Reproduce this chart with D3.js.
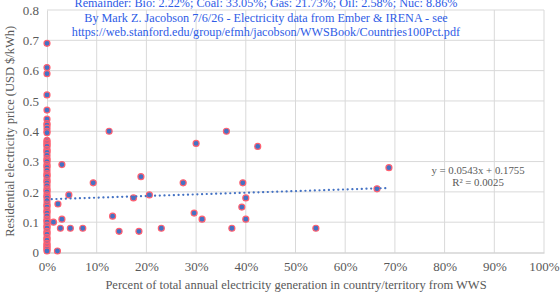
<!DOCTYPE html>
<html>
<head>
<meta charset="utf-8">
<script src="https://cdn.jsdelivr.net/npm/d3@7"></script>
<style>
  body { margin: 0; background: #fff; }
  text { font-family: "Liberation Serif", "Times New Roman", serif; }
</style>
</head>
<body>
<div id="chart-area"></div>
<script>
// points sitting on the 0% line (price in USD/kWh)
var zeroPrices = [0.69, 0.61, 0.59, 0.52, 0.47, 0.44, 0.425, 0.42, 0.41, 0.40, 0.395,
    0.37, 0.365, 0.36, 0.355, 0.35, 0.34, 0.335, 0.33, 0.32, 0.31, 0.305, 0.30, 0.29,
    0.285, 0.28, 0.27, 0.26, 0.255, 0.25, 0.24, 0.235, 0.23, 0.22, 0.21, 0.205, 0.20,
    0.19, 0.185, 0.18, 0.17, 0.16, 0.155, 0.15, 0.14, 0.135, 0.13, 0.12, 0.11, 0.105,
    0.10, 0.09, 0.085, 0.08, 0.07, 0.065, 0.06, 0.05, 0.045, 0.04, 0.03, 0.025, 0.02,
    0.015, 0.01, 0.005];

// other countries: percent WWS and price
var wwsPct = [3.0, 2.2, 4.4, 1.3, 3.0, 2.7, 4.7, 7.2, 2.1, 9.3, 12.5, 13.2, 14.5, 17.4,
    18.5, 18.9, 20.6, 23.0, 27.4, 29.6, 30.0, 31.2, 36.1, 37.2, 39.2, 39.4, 40.0, 40.0,
    42.4, 54.1, 66.4, 68.8];
var wwsPrice = [0.29, 0.16, 0.19, 0.10, 0.11, 0.08, 0.08, 0.08, 0.005, 0.23, 0.40, 0.12,
    0.07, 0.18, 0.07, 0.25, 0.19, 0.08, 0.23, 0.13, 0.36, 0.11, 0.40, 0.08, 0.15, 0.23,
    0.18, 0.11, 0.35, 0.08, 0.21, 0.28];

var xTicks = [0, 10, 20, 30, 40, 50, 60, 70, 80, 90, 100];
var yTicks = [0, 0.1, 0.2, 0.3, 0.4, 0.5, 0.6, 0.7, 0.8];

var titleLines = [
    "Remainder: Bio: 2.22%; Coal: 33.05%; Gas: 21.73%; Oil: 2.58%; Nuc: 8.86%",
    "By Mark Z. Jacobson 7/6/26 - Electricity data from Ember & IRENA - see",
    "https://web.stanford.edu/group/efmh/jacobson/WWSBook/Countries100Pct.pdf"
];
var slope = 0.0543, intercept = 0.1755, rSquared = 0.0025;

var width = 560, height = 294;
var svg = d3.select("#chart-area").append("svg")
    .attr("width", width)
    .attr("height", height);

var x = d3.scaleLinear().domain([0, 100]).range([47, 544]);
var y = d3.scaleLinear().domain([0, 0.8]).range([252.5, 10]);

var points = zeroPrices.map(function (p) { return [0, p]; })
    .concat(wwsPct.map(function (w, i) { return [w, wwsPrice[i]]; }));

// gridlines
svg.append("g").selectAll("line.h")
    .data(yTicks.slice(1))
    .enter().append("line")
    .attr("x1", x(0)).attr("x2", x(100))
    .attr("y1", function (d) { return y(d); })
    .attr("y2", function (d) { return y(d); })
    .attr("stroke", "#d9d9d9").attr("stroke-width", 1);

svg.append("g").selectAll("line.v")
    .data(xTicks.slice(1))
    .enter().append("line")
    .attr("y1", y(0)).attr("y2", y(0.8))
    .attr("x1", function (d) { return x(d); })
    .attr("x2", function (d) { return x(d); })
    .attr("stroke", "#d9d9d9").attr("stroke-width", 1);

// axes
var xAxis = svg.append("g")
    .attr("transform", "translate(0," + y(0) + ")")
    .call(d3.axisBottom(x).tickValues(xTicks).tickSize(0).tickPadding(9)
        .tickFormat(function (d) { return d + "%"; }));
xAxis.select(".domain").attr("stroke", "#bfbfbf");
xAxis.selectAll("text").attr("fill", "#595959").style("font-size", "13px");

var yAxis = svg.append("g")
    .attr("transform", "translate(" + x(0) + ",0)")
    .call(d3.axisLeft(y).tickValues(yTicks).tickSize(0).tickPadding(8)
        .tickFormat(function (d) { return d === 0 ? "0" : d3.format(".1f")(d); }));
yAxis.select(".domain").attr("stroke", "#d9d9d9");
yAxis.selectAll("text").attr("fill", "#595959").style("font-size", "13px");

// points
svg.append("g").selectAll("circle")
    .data(points)
    .enter().append("circle")
    .attr("cx", function (d) { return x(d[0]); })
    .attr("cy", function (d) { return y(d[1]); })
    .attr("r", 3)
    .attr("fill", "#4472c4")
    .attr("stroke", "#ff6070")
    .attr("stroke-width", 1.2);

// trendline
svg.append("line")
    .attr("x1", x(0)).attr("y1", y(intercept))
    .attr("x2", x(68.8)).attr("y2", y(intercept + slope * 0.688))
    .attr("stroke", "#4472c4")
    .attr("stroke-width", 2.2)
    .attr("stroke-linecap", "round")
    .attr("stroke-dasharray", "0.1 4.6");

// equation
svg.append("text")
    .attr("x", 478).attr("y", 174)
    .attr("text-anchor", "middle")
    .attr("fill", "#595959")
    .style("font-size", "10.8px")
    .text("y = " + slope + "x + " + intercept);
svg.append("text")
    .attr("x", 478).attr("y", 186)
    .attr("text-anchor", "middle")
    .attr("fill", "#595959")
    .style("font-size", "10.8px")
    .text("R² = " + rSquared);

// title block
svg.append("g").selectAll("text")
    .data(titleLines)
    .enter().append("text")
    .attr("x", 266)
    .attr("y", function (d, i) { return 7 + i * 14.5; })
    .attr("text-anchor", "middle")
    .attr("fill", "#2e5ce6")
    .style("font-size", "12.2px")
    .text(function (d) { return d; });

// axis titles
svg.append("text")
    .attr("x", 296).attr("y", 289)
    .attr("text-anchor", "middle")
    .attr("fill", "#595959")
    .style("font-size", "12.5px")
    .text("Percent of total annual electricity generation in country/territory from WWS");

svg.append("text")
    .attr("transform", "translate(14," + y(0.4) + ") rotate(-90)")
    .attr("text-anchor", "middle")
    .attr("fill", "#595959")
    .style("font-size", "12.5px")
    .text("Residential electricity price (USD $/kWh)");
</script>
</body>
</html>
